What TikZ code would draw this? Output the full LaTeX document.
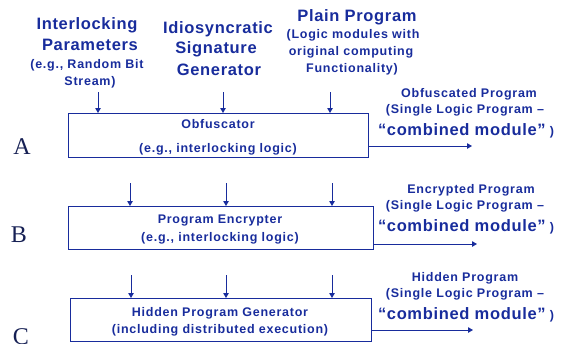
\documentclass[tikz,border=0pt]{standalone}
\usepackage{fontspec}
\setmainfont{Liberation Sans}
\newfontfamily\stagefont{Liberation Serif}
\usetikzlibrary{arrows.meta}

\definecolor{flowblue}{RGB}{24,44,156}
\definecolor{stagenavy}{RGB}{22,32,84}

\newcommand\bigsz{\fontsize{16.5}{20}\selectfont\addfontfeature{LetterSpace=4}}
\newcommand\smallsz{\fontsize{12.5}{15}\selectfont\addfontfeature{LetterSpace=6}}

\tikzset{
  txt/.style={text=flowblue, inner sep=0pt, anchor=base, font=\bfseries\smallsz},
  bigtxt/.style={txt, font=\bfseries\bigsz},
  stagebox/.style={draw=flowblue, line width=1pt, inner sep=0pt, anchor=north west},
  flow/.style={draw=flowblue, line width=1pt, -{Triangle[length=5pt,width=5.5pt]}},
  stagelabel/.style={text=stagenavy, inner sep=0pt, anchor=base, font=\stagefont\fontsize{24}{24}\selectfont},
}

\begin{document}
\begin{tikzpicture}[x=1pt,y=-1pt]
	\useasboundingbox (0,0) rectangle (572,343);

	% inputs
	\node[bigtxt] (ilock1) at (87,29) {Interlocking};
	\node[bigtxt] (ilock2) at (90,50) {Parameters};
	\node[txt] (ilock3) at (87,68) {(e.g., Random Bit};
	\node[txt] (ilock4) at (90,85) {Stream)};

	\node[bigtxt] (sig1) at (218,33) {Idiosyncratic};
	\node[bigtxt] (sig2) at (216,53) {Signature};
	\node[bigtxt] (sig3) at (219,75) {Generator};

	\node[bigtxt] (plain1) at (357,21) {Plain Program};
	\node[txt] (plain2) at (353,38) {(Logic modules with};
	\node[txt] (plain3) at (351,55) {original computing};
	\node[txt] (plain4) at (352,72) {Functionality)};

	% stages
	\node[stagebox, minimum width=300pt, minimum height=44pt] (obf) at (68,113) {};
	\node[txt] (obfa) at (218,128) {Obfuscator};
	\node[txt] (obfb) at (218,152) {(e.g., interlocking logic)};

	\node[stagebox, minimum width=305pt, minimum height=43pt] (enc) at (68,206) {};
	\node[txt] (enca) at (220,223) {Program Encrypter};
	\node[txt] (encb) at (220,241) {(e.g., interlocking logic)};

	\node[stagebox, minimum width=301pt, minimum height=43pt] (hid) at (70,298) {};
	\node[txt] (hida) at (220,316) {Hidden Program Generator};
	\node[txt] (hidb) at (220,333) {(including distributed execution)};

	\node[stagelabel] (labA) at (22,154) {A};
	\node[stagelabel] (labB) at (19,242) {B};
	\node[stagelabel] (labC) at (21,344) {C};

	% arrows into the stages
	\foreach \x [count=\i] in {98,223,330} {
		\coordinate (top\i) at (\x,92);
		\draw[flow] (top\i) -- (top\i |- obf.north);
	}
	\foreach \x [count=\i] in {130,226,332} {
		\coordinate (mid\i) at (\x,183);
		\draw[flow] (mid\i) -- (mid\i |- enc.north);
	}
	\foreach \x [count=\i] in {131,226,332} {
		\coordinate (low\i) at (\x,275);
		\draw[flow] (low\i) -- (low\i |- hid.north);
	}

	% outputs
	\coordinate (obfout) at (472,146);
	\coordinate (encout) at (477,244);
	\coordinate (hidout) at (473,330);
	\draw[flow] (obf.east |- obfout) -- (obfout);
	\draw[flow] (enc.east |- encout) -- (encout);
	\draw[flow] (hid.east |- hidout) -- (hidout);

	\foreach \name/\what/\x/\y in {obfres/Obfuscated/469/97, encres/Encrypted/471/193, hidres/Hidden/465/281} {
		\node[txt] (\name1) at (\x,\y) {\what\ Program};
		\node[txt] (\name2) at (465,\y+16.5) {(Single Logic Program --};
		\node[txt] (\name3) at (466,\y+38) {{\bigsz ``combined module''} )};
	}

\end{tikzpicture}
\end{document}
